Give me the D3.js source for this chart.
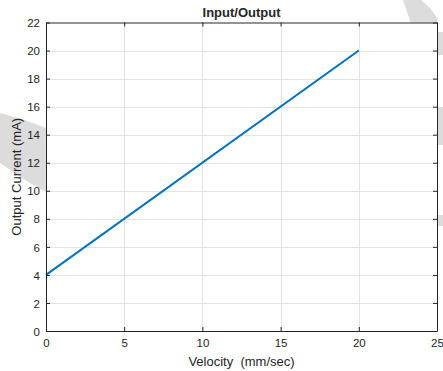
<!DOCTYPE html>
<html>
<head>
<meta charset="utf-8">
<script src="https://cdn.jsdelivr.net/npm/d3@7"></script>
<style>
  body { margin: 0; background: #fff; }
  text { font-family: "Liberation Sans", Arial, sans-serif; fill: #262626; }
</style>
</head>
<body>
<script>
const width = 443
const height = 371

// data
const velocity = [0, 20]
const current = [4, 20]
const xTicks = [0, 5, 10, 15, 20, 25]
const yTicks = [0, 2, 4, 6, 8, 10, 12, 14, 16, 18, 20, 22]

const plotL = 46, plotR = 437, plotT = 22.5, plotB = 331

const x = d3.scaleLinear().domain([0, 25]).range([plotL, plotR])
const y = d3.scaleLinear().domain([0, 22]).range([plotB, plotT])

const svg = d3.select('body').append('svg')
  .attr('width', width)
  .attr('height', height)

// grey smudges in the background of the original figure
const smudge = svg.append('g').attr('fill', '#dcdcdc')
smudge.append('path').attr('d', 'M0,113 L22,119 L46,128 L46,192 L30,183 L12,171 L0,163 Z')
smudge.append('path').attr('d', 'M403,0 L421,0 L430,8 L437,18 L437,23 L411,23 L407,12 Z')
smudge.append('rect').attr('x', 437).attr('y', 32).attr('width', 6).attr('height', 23)
smudge.append('rect').attr('x', 437).attr('y', 107).attr('width', 6).attr('height', 38)
smudge.append('rect').attr('x', 437).attr('y', 215).attr('width', 6).attr('height', 11)

// plot background
svg.append('rect')
  .attr('x', plotL).attr('y', plotT)
  .attr('width', plotR - plotL).attr('height', plotB - plotT)
  .attr('fill', '#fff')

// grid
const grid = svg.append('g').attr('stroke', '#e3e3e3').attr('stroke-width', 1)
grid.selectAll('.gx').data(xTicks.slice(1, -1)).enter().append('line')
  .attr('x1', d => Math.round(x(d)) + 0.5).attr('x2', d => Math.round(x(d)) + 0.5)
  .attr('y1', plotT).attr('y2', plotB)
grid.selectAll('.gy').data(yTicks.slice(1, -1)).enter().append('line')
  .attr('y1', d => Math.round(y(d)) + 0.5).attr('y2', d => Math.round(y(d)) + 0.5)
  .attr('x1', plotL).attr('x2', plotR)

// data line
const line = d3.line()
  .x((d, i) => x(velocity[i]))
  .y(d => y(d))

svg.append('path')
  .datum(current)
  .attr('d', line)
  .attr('fill', 'none')
  .attr('stroke', '#0072BD')
  .attr('stroke-width', 2)

// axes, ticks pointing inward on all four sides
const tick = 4
const xAxis = d3.axisBottom(x).tickValues(xTicks).tickSizeInner(-tick).tickSizeOuter(0).tickPadding(8)
const yAxis = d3.axisLeft(y).tickValues(yTicks).tickSizeInner(-tick).tickSizeOuter(0).tickPadding(6)

const gx = svg.append('g').attr('transform', `translate(0,${plotB})`).call(xAxis)
const gy = svg.append('g').attr('transform', `translate(${plotL},0)`).call(yAxis)
const gt = svg.append('g').attr('transform', `translate(0,${plotT})`)
  .call(d3.axisTop(x).tickValues(xTicks).tickSizeInner(-tick).tickSizeOuter(0).tickFormat(''))
const gr = svg.append('g').attr('transform', `translate(${plotR},0)`)
  .call(d3.axisRight(y).tickValues(yTicks).tickSizeInner(-tick).tickSizeOuter(0).tickFormat(''))

svg.selectAll('.domain').attr('stroke', '#262626')
svg.selectAll('.tick line').attr('stroke', '#262626')
svg.selectAll('.tick text')
  .style('font-family', '"Liberation Sans", Arial, sans-serif')
  .style('font-size', '11.5px')
  .attr('fill', '#262626')
gy.selectAll('.tick text').attr('dy', '0.36em')

// title and labels
svg.append('text')
  .attr('x', (plotL + plotR) / 2).attr('y', 17)
  .attr('text-anchor', 'middle')
  .style('font-size', '13px').style('font-weight', 'bold')
  .attr('fill', '#000')
  .text('Input/Output')

svg.append('text')
  .attr('x', (plotL + plotR) / 2).attr('y', 366)
  .attr('text-anchor', 'middle')
  .style('font-size', '13px')
  .style('white-space', 'pre')
  .text('Velocity  (mm/sec)')

svg.append('text')
  .attr('transform', `translate(21,${(plotT + plotB) / 2}) rotate(-90)`)
  .attr('text-anchor', 'middle')
  .style('font-size', '13px')
  .text('Output Current (mA)')
</script>
</body>
</html>
